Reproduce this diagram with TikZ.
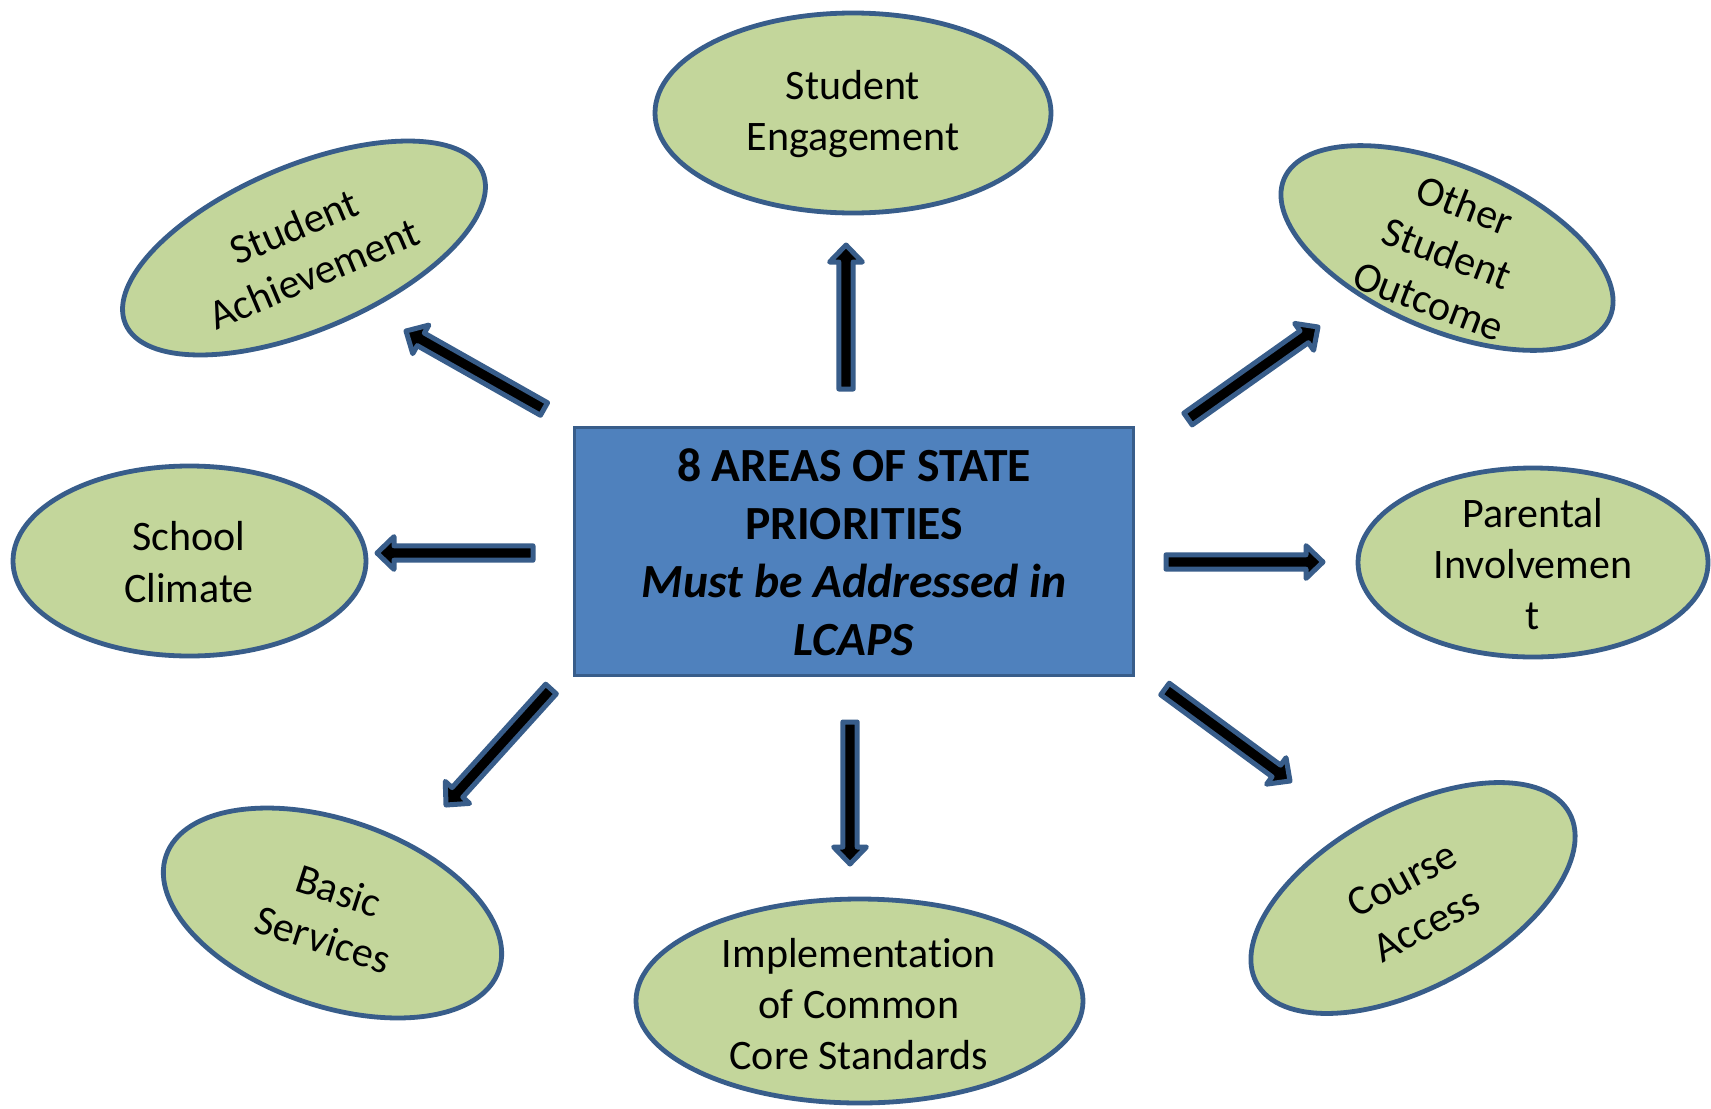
\documentclass[tikz,border=0pt]{standalone}
\usepackage{fontspec}
\setmainfont[RawFeature={-liga,-clig,-calt,-dlig}]{Carlito}
\usetikzlibrary{shapes.geometric,calc}
\definecolor{edgeblue}{RGB}{56,93,138}
\definecolor{boxblue}{RGB}{79,129,189}
\definecolor{leafgreen}{RGB}{195,214,155}
\tikzset{
  area/.style={ellipse, draw=edgeblue, fill=leafgreen, line width=2.4pt, inner sep=0pt},
  areatext/.style={align=center, font=\fontsize{21pt}{25.6pt}\selectfont, inner sep=0pt},
  hub/.style={rectangle, draw=edgeblue, fill=boxblue, line width=1.5pt, inner sep=0pt,
              minimum width=279.5pt, minimum height=124pt},
  hubtext/.style={align=center, font=\fontsize{23.8pt}{29pt}\selectfont\bfseries, inner sep=0pt},
  blockarrow/.style={draw=edgeblue, fill=black, line width=2.5pt, line join=round}
}
% block arrow from a named tail coordinate to a named tip coordinate
\newcommand\arrowfromto[2]{%
  \coordinate (#1-base) at ($(#2)!8.5pt!(#1)$);
  \draw[blockarrow] ($(#1)!3.6pt!90:(#2)$) -- ($(#1-base)!3.6pt!90:(#2)$)
    -- ($(#1-base)!8.2pt!90:(#2)$) -- (#2) -- ($(#1-base)!8.2pt!-90:(#2)$)
    -- ($(#1-base)!3.6pt!-90:(#2)$) -- ($(#1)!3.6pt!-90:(#2)$) -- cycle;
}
\begin{document}
\begin{tikzpicture}[x=0.5pt,y=-0.5pt]
\fill[white] (0,0) rectangle (1711,1108);
\useasboundingbox (0,0) rectangle (1711,1108);

% central box
\node[hub] (hub) at (854,551) {};
\node[hubtext] (hub-t) at (854,552) {8 AREAS OF STATE\\PRIORITIES\\\textit{Must be Addressed in}\\\textit{LCAPS}};

% the eight areas
\node[area, minimum width=198pt, minimum height=100pt] (eng) at (853,113) {};
\node[areatext] (eng-t) at (853,114) {Student\\Engagement};

\node[area, minimum width=194pt, minimum height=82pt, rotate=23] (ach) at (304,248) {};
\node[areatext, rotate=23] (ach-t) at (304,250) {Student\\Achievement};

\node[area, minimum width=177pt, minimum height=82pt, rotate=-23] (oso) at (1447,248) {};
\node[areatext, rotate=-21] (oso-t) at (1447,253) {Other\\Student\\Outcome};

\node[area, minimum width=176.5pt, minimum height=95pt] (clim) at (189.5,561) {};
\node[areatext] (clim-t) at (189,562) {School\\Climate};

\node[area, minimum width=175pt, minimum height=94.5pt] (par) at (1533,562.5) {};
\node[areatext] (par-t) at (1533,564) {Parental\\Involvemen\\t};

\node[area, minimum width=176pt, minimum height=93pt, rotate=-19] (basic) at (332.5,913) {};
\node[areatext, rotate=-18] (basic-t) at (331,915) {Basic\\Services};

\node[area, minimum width=223.5pt, minimum height=102pt] (impl) at (859.5,1001) {};
\node[areatext] (impl-t) at (859,1004) {Implementat\kern0pt ion\\of Common\\Core Standards};

\node[area, minimum width=178pt, minimum height=89pt, rotate=28.5] (course) at (1413,898) {};
\node[areatext, rotate=28] (course-t) at (1414,902) {Course\\Access};

% arrow ends
\coordinate (eng-tail) at (846,389);   \coordinate (eng-tip) at (846,245);
\coordinate (ach-tail) at (544,409);   \coordinate (ach-tip) at (406,331);
\coordinate (oso-tail) at (1188,419);  \coordinate (oso-tip) at (1318,327);
\coordinate (clim-tail) at (533,553);  \coordinate (clim-tip) at (377,553);
\coordinate (par-tail) at (1166,562);  \coordinate (par-tip) at (1323,562);
\coordinate (basic-tail) at (551,689); \coordinate (basic-tip) at (446,805);
\coordinate (impl-tail) at (850,722);  \coordinate (impl-tip) at (850,864);
\coordinate (course-tail) at (1165,689); \coordinate (course-tip) at (1290,781);

\arrowfromto{eng-tail}{eng-tip}
\arrowfromto{ach-tail}{ach-tip}
\arrowfromto{oso-tail}{oso-tip}
\arrowfromto{clim-tail}{clim-tip}
\arrowfromto{par-tail}{par-tip}
\arrowfromto{basic-tail}{basic-tip}
\arrowfromto{impl-tail}{impl-tip}
\arrowfromto{course-tail}{course-tip}
\end{tikzpicture}
\end{document}
